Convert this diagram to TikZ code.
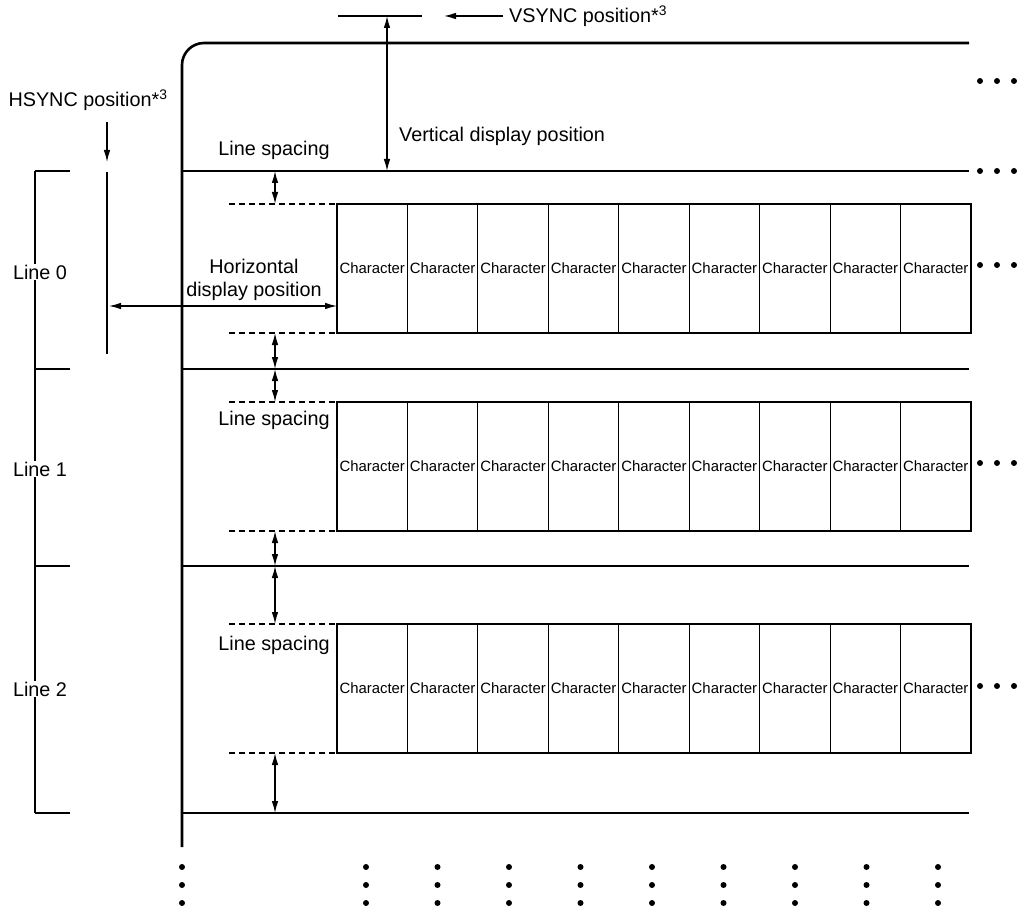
\documentclass[tikz,border=0pt]{standalone}
\usepackage{fontspec}
\setmainfont{Liberation Sans}
\usetikzlibrary{arrows.meta}
\begin{document}
\begin{tikzpicture}[x=1pt,y=-1pt,
  thinline/.style={line width=1.2pt},
  frameline/.style={line width=2.6pt},
  arr/.style={line width=1.2pt,-{Latex[length=12pt,width=6.5pt]}},
  darr/.style={line width=1.2pt,{Latex[length=12pt,width=6.5pt]}-{Latex[length=12pt,width=6.5pt]}},
  dashline/.style={line width=1.2pt,dash pattern=on 6pt off 4pt},
  charbox/.style={draw,line width=1.1pt,minimum width=70.44pt,minimum height=129pt,inner sep=0pt,outer sep=0pt,font=\fontsize{14.9}{16}\selectfont,anchor=north west},
  lbl/.style={font=\fontsize{19.8}{23}\selectfont,inner sep=1pt},
  dotnode/.style={circle,fill,inner sep=0pt,minimum size=6pt}
]
\useasboundingbox (0,0) rectangle (1019,909);

% display frame
\draw[frameline,rounded corners=22pt] (182,847) -- (182,43) -- (969,43);

% horizontal line boundaries
\foreach \n/\y in {0/171,1/369,2/566,3/813}{
  \coordinate (hl\n) at (182,\y);
  \draw[thinline] (hl\n) -- (969,\y);
  \coordinate (sp\n) at (275,\y);
}

% character rows
\foreach \r/\y in {0/204,1/402,2/624}{
  \foreach \i in {0,...,8}{
    \node[charbox] (c\r-\i) at ({337+70.44*\i},\y) {Character};
  }
  \coordinate (dt\r) at (229,\y);
  \coordinate (db\r) at (229,{\y+129});
  \draw[dashline] (dt\r) -- (c\r-0.north west);
  \draw[dashline] (db\r) -- (c\r-0.south west);
  \coordinate (at\r) at (275,\y);
  \coordinate (ab\r) at (275,{\y+129});
}

% line spacing arrows
\draw[darr] (sp0) -- (at0);
\draw[darr] (ab0) -- (sp1);
\draw[darr] (sp1) -- (at1);
\draw[darr] (ab1) -- (sp2);
\draw[darr] (sp2) -- (at2);
\draw[darr] (ab2) -- (sp3);

\node[lbl] (ls0) at (274,150) {Line spacing};
\node[lbl] (ls1) at (274,420) {Line spacing};
\node[lbl] (ls2) at (274,645) {Line spacing};

% dots on the right
\foreach \k/\y in {a/81,b/171,c/265,d/463,e/686}{
  \foreach \j/\x in {1/980,2/997,3/1014}{
    \node[dotnode] (rd\k\j) at (\x,\y) {};
  }
}

% bottom dots
\foreach \j/\x in {0/182,1/366,2/437.5,3/509,4/580.5,5/652,6/723.5,7/795,8/866.5,9/938}{
  \foreach \m/\y in {1/867,2/885,3/903}{
    \node[dotnode] (bd\j\m) at (\x,\y) {};
  }
}

% line brackets
\coordinate (bt) at (35,171);
\coordinate (bb) at (35,813);
\draw[thinline] (bt) -- (bb);
\foreach \n/\y in {0/171,1/369,2/566,3/813}{
  \coordinate (bk\n) at (35,\y);
  \coordinate (bke\n) at (70,\y);
  \draw[thinline] (bk\n) -- (bke\n);
}
\node[lbl,fill=white] (line0) at (40,272) {Line 0};
\node[lbl,fill=white] (line1) at (40,469) {Line 1};
\node[lbl,fill=white] (line2) at (40,689) {Line 2};

% HSYNC
\node[lbl] (hsync) at (88,100) {HSYNC position*\textsuperscript{3}};
\coordinate (ha) at (107,122);
\coordinate (hb) at (107,162);
\draw[arr] (ha) -- (hb);
\coordinate (hl) at (107,172);
\coordinate (hlb) at (107,354);
\draw[thinline] (hl) -- (hlb);
\coordinate (hpa) at (109,306);
\coordinate (hpb) at (337,306);
\draw[darr] (hpa) -- (hpb);
\node[lbl,align=center] (hdp) at (254,280) {Horizontal\\[0pt]display position};

% VSYNC
\coordinate (vl1) at (338,16);
\coordinate (vl2) at (422,16);
\draw[thinline] (vl1) -- (vl2);
\node[lbl,anchor=west] (vsync) at (508,16) {VSYNC position*\textsuperscript{3}};
\coordinate (vs) at (503,16);
\coordinate (va) at (444,16);
\draw[arr] (vs) -- (va);
\coordinate (vda) at (387,16);
\coordinate (vdb) at (387,171);
\draw[darr] (vda) -- (vdb);
\node[lbl,anchor=west] (vdp) at (398,136) {Vertical display position};

\end{tikzpicture}
\end{document}
